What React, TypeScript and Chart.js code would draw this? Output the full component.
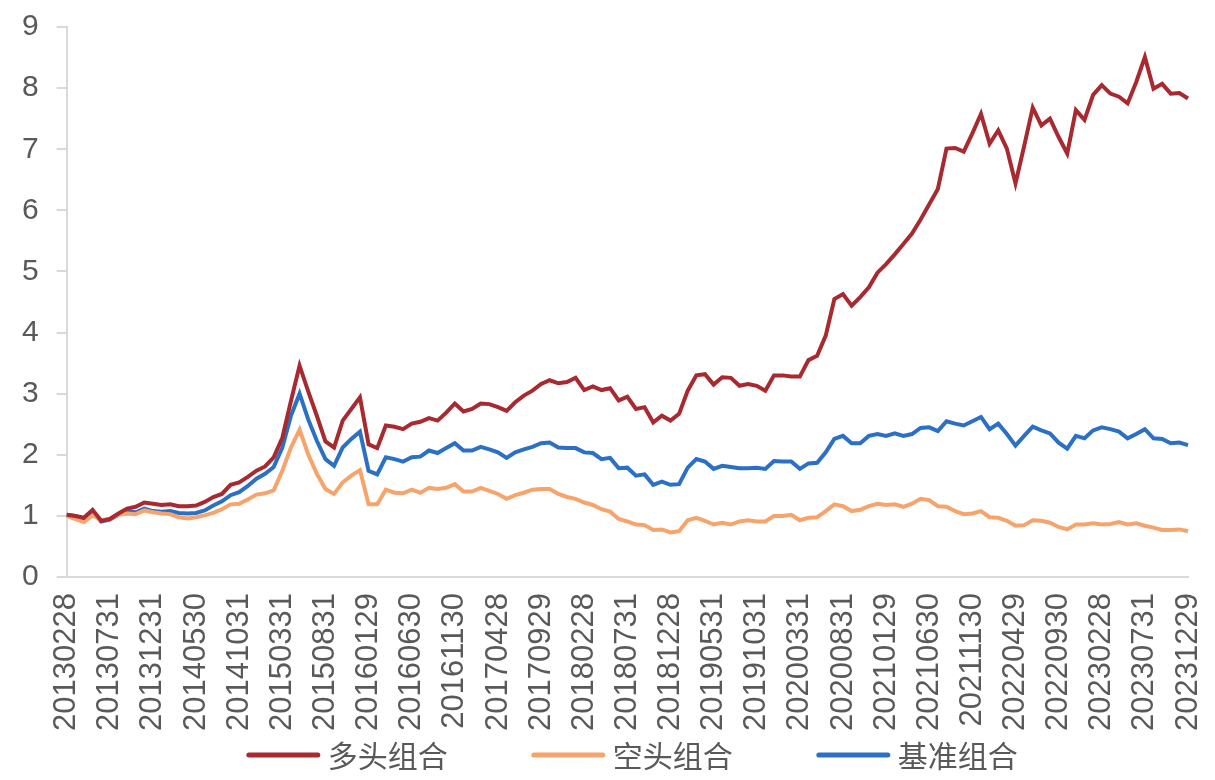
import React, { useEffect, useRef } from 'react';
import { Chart, registerables } from 'chart.js';

Chart.register(...registerables);

// ---- data ----
const tickLabels = [
  '20130228', '20130731', '20131231', '20140530', '20141031', '20150331', '20150831',
  '20160129', '20160630', '20161130', '20170428', '20170929', '20180228', '20180731',
  '20181228', '20190531', '20191031', '20200331', '20200831', '20210129', '20210630',
  '20211130', '20220429', '20220930', '20230228', '20230731', '20231229',
];

const longValues = [
  1.02, 1.0, 0.97, 1.1, 0.92, 0.95, 1.04, 1.12, 1.15, 1.22,
  1.2, 1.18, 1.19, 1.16, 1.16, 1.17, 1.23, 1.31, 1.36, 1.51,
  1.55, 1.64, 1.74, 1.81, 1.96, 2.28, 2.88, 3.46, 3.04, 2.64,
  2.22, 2.12, 2.56, 2.75, 2.94, 2.17, 2.11, 2.48, 2.46, 2.42,
  2.51, 2.54, 2.6, 2.56, 2.69, 2.84, 2.71, 2.75, 2.84, 2.83,
  2.78, 2.72, 2.86, 2.97, 3.05, 3.16, 3.22, 3.17, 3.19, 3.26,
  3.06, 3.12, 3.06, 3.09, 2.89, 2.95, 2.75, 2.78, 2.53, 2.64,
  2.56, 2.67, 3.05, 3.3, 3.32, 3.15, 3.27, 3.26, 3.13, 3.16,
  3.13, 3.05, 3.3, 3.3, 3.28, 3.28, 3.55, 3.62, 3.95, 4.55,
  4.63, 4.44, 4.58, 4.74, 4.98, 5.12, 5.28, 5.45, 5.62, 5.85,
  6.1, 6.35, 7.01, 7.02, 6.96, 7.26, 7.58, 7.09, 7.31, 7.01,
  6.44, 7.05, 7.68, 7.39, 7.5, 7.2, 6.93, 7.64, 7.48, 7.89,
  8.05, 7.91, 7.86, 7.75, 8.1, 8.51, 7.99, 8.07, 7.91, 7.92,
  7.83,
];

const shortValues = [
  1.0, 0.95, 0.9, 1.01, 0.93, 0.95, 1.02, 1.04, 1.03, 1.09,
  1.06, 1.04, 1.03, 0.98, 0.96, 0.98, 1.01, 1.05, 1.11, 1.19,
  1.2, 1.27, 1.35, 1.37, 1.42, 1.74, 2.12, 2.41, 2.01, 1.69,
  1.44, 1.36, 1.55, 1.66, 1.75, 1.19, 1.19, 1.43, 1.38, 1.37,
  1.43, 1.38, 1.46, 1.44, 1.46, 1.52, 1.4, 1.4, 1.46, 1.41,
  1.36, 1.28, 1.34, 1.38, 1.43, 1.44, 1.44, 1.36, 1.31, 1.28,
  1.22, 1.18, 1.11, 1.07, 0.95, 0.91, 0.86, 0.85, 0.77, 0.78,
  0.73, 0.75, 0.93, 0.97, 0.92, 0.86, 0.89, 0.86, 0.91, 0.93,
  0.91, 0.91, 1.0, 1.0, 1.02, 0.93, 0.97, 0.98, 1.08, 1.19,
  1.16, 1.08, 1.1, 1.16, 1.2, 1.18, 1.19, 1.15, 1.2, 1.28,
  1.26, 1.16, 1.15, 1.08, 1.03, 1.04, 1.08, 0.98, 0.97, 0.92,
  0.84, 0.85, 0.93, 0.92, 0.89, 0.82, 0.78, 0.86, 0.86, 0.88,
  0.86, 0.87, 0.9, 0.86, 0.88, 0.84, 0.81, 0.77, 0.77, 0.78,
  0.75,
];

const benchValues = [
  1.02, 1.0, 0.96, 1.08, 0.91, 0.94, 1.02, 1.08, 1.06, 1.12,
  1.08, 1.07, 1.08, 1.05, 1.04, 1.05, 1.09, 1.17, 1.24, 1.34,
  1.39, 1.49, 1.61, 1.69, 1.8, 2.12, 2.64, 3.0, 2.58, 2.23,
  1.93, 1.82, 2.12, 2.26, 2.38, 1.74, 1.68, 1.96, 1.93, 1.89,
  1.96, 1.97, 2.07, 2.03, 2.11, 2.19, 2.07, 2.07, 2.13, 2.09,
  2.04, 1.95, 2.04, 2.09, 2.13, 2.19, 2.2, 2.12, 2.11, 2.11,
  2.04, 2.03, 1.93, 1.95, 1.78, 1.79, 1.66, 1.68, 1.51, 1.56,
  1.51, 1.52, 1.79, 1.93, 1.89, 1.77, 1.82, 1.8, 1.78, 1.78,
  1.79, 1.77, 1.9, 1.89, 1.89, 1.77, 1.86, 1.87, 2.04, 2.26,
  2.31, 2.19, 2.19, 2.31, 2.34, 2.31, 2.35, 2.31, 2.34, 2.44,
  2.45, 2.39, 2.55, 2.51, 2.48, 2.55, 2.62, 2.42, 2.51, 2.34,
  2.15, 2.31, 2.46, 2.4, 2.35, 2.2, 2.1, 2.31, 2.27, 2.4,
  2.45, 2.42, 2.38, 2.27, 2.34, 2.42, 2.27, 2.26, 2.19, 2.2,
  2.16,
];

const seriesNames = ['多头组合', '空头组合', '基准组合'];
const seriesColors = ['#a8292f', '#f7a46c', '#2c70c6'];
const yTicks = [0, 1, 2, 3, 4, 5, 6, 7, 8, 9];

// month-end category labels (every 5th month shown, matching tickLabels)
const categories: string[] = longValues.map((_, i) => {
  if (i % 5 === 0) return tickLabels[i / 5];
  const m = 1 + i;
  const y = 2013 + Math.floor(m / 12);
  const mo = m % 12;
  const d = new Date(y, mo + 1, 0).getDate();
  return `${y}${String(mo + 1).padStart(2, '0')}${d}`;
});

const TEXT_COLOR = '#595959';
const AXIS_COLOR = '#d9d9d9';
const NUM_FONT = '"Liberation Sans", Arial, sans-serif';

const bottomLegend = {
  id: 'bottomLegend',
  afterDraw(chart: any) {
    const ctx = chart.ctx;
    const area = chart.chartArea;
    ctx.save();
    ctx.font = '30px "Noto Sans CJK SC"';
    ctx.textBaseline = 'middle';
    ctx.textAlign = 'left';
    const lineW = 69;
    const textGap = 10;
    const itemGap = 86;
    const items = chart.data.datasets.map((ds: any) => ({
      label: ds.label,
      color: ds.borderColor,
      w: ctx.measureText(ds.label).width,
    }));
    const total =
      items.reduce((s: number, it: any) => s + lineW + textGap + it.w, 0) +
      itemGap * (items.length - 1);
    let x = (area.left + area.right) / 2 - total / 2 + 6;
    const y = chart.height - 25;
    items.forEach((it: any) => {
      ctx.strokeStyle = it.color;
      ctx.lineWidth = 5;
      ctx.lineCap = 'round';
      ctx.beginPath();
      ctx.moveTo(x, y);
      ctx.lineTo(x + lineW, y);
      ctx.stroke();
      ctx.fillStyle = TEXT_COLOR;
      ctx.fillText(it.label, x + lineW + textGap, y + 1);
      x += lineW + textGap + it.w + itemGap;
    });
    ctx.restore();
  },
};

export default function App() {
  const canvasRef = useRef<HTMLCanvasElement | null>(null);

  useEffect(() => {
    if (!canvasRef.current) return;
    const values = [longValues, shortValues, benchValues];
    const chart = new Chart(canvasRef.current, {
      type: 'line',
      data: {
        labels: categories,
        datasets: values.map((v, k) => ({
          label: seriesNames[k],
          data: v,
          borderColor: seriesColors[k],
          backgroundColor: seriesColors[k],
          borderWidth: 4,
          pointRadius: 0,
          tension: 0,
          fill: false,
        })),
      },
      options: {
        animation: false,
        responsive: false,
        layout: { padding: { left: 4, right: 27, top: 27, bottom: 33 } },
        plugins: {
          legend: { display: false },
          tooltip: { enabled: false },
        },
        scales: {
          x: {
            type: 'category',
            offset: false,
            grid: { display: false, drawTicks: false },
            border: { display: true, color: AXIS_COLOR, width: 2 },
            afterFit: (scale: any) => {
              scale.paddingLeft = 0;
              scale.paddingRight = 0;
            },
            ticks: {
              autoSkip: false,
              maxRotation: 90,
              minRotation: 90,
              padding: 16,
              color: TEXT_COLOR,
              font: { family: NUM_FONT, size: 31 },
              callback: (_v: any, i: number) => (i % 5 === 0 ? categories[i] : null),
            },
          },
          y: {
            min: yTicks[0],
            max: yTicks[yTicks.length - 1],
            afterBuildTicks: (scale: any) => {
              scale.ticks = yTicks.map((v) => ({ value: v }));
            },
            afterFit: (scale: any) => {
              scale.paddingTop = 0;
              scale.paddingBottom = 0;
            },
            grid: {
              display: true,
              drawOnChartArea: false,
              drawTicks: true,
              tickLength: 10,
              color: AXIS_COLOR,
              lineWidth: 2,
            },
            border: { display: true, color: AXIS_COLOR, width: 2 },
            ticks: {
              padding: 18,
              color: TEXT_COLOR,
              font: { family: NUM_FONT, size: 30 },
            },
          },
        },
      },
      plugins: [bottomLegend],
    });
    return () => chart.destroy();
  }, []);

  return (
    <div style={{ position: 'absolute', left: 0, top: 0, width: 1215, height: 780, background: '#fff' }}>
      <canvas ref={canvasRef} width={1215} height={780} />
    </div>
  );
}
